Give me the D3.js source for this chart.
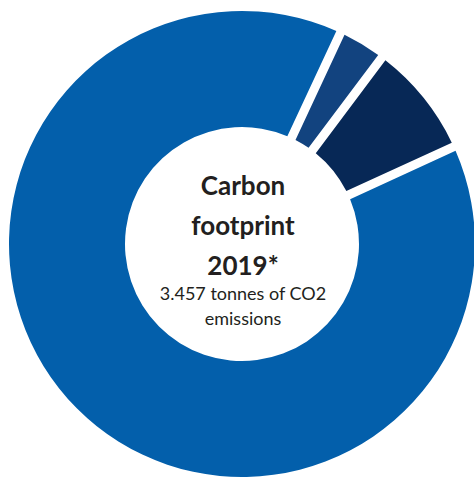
<!DOCTYPE html>
<html>
<head>
<meta charset="utf-8">
<script src="https://cdn.jsdelivr.net/npm/d3@7"></script>
<style>
  html, body { margin: 0; padding: 0; background: #ffffff; }
  svg { display: block; }
</style>
</head>
<body>
<svg id="chart" width="474" height="477"></svg>
<script>
// Emission shares of the 2019 carbon footprint (percent of total)
const categories = ["Scope 1", "Scope 2", "Scope 3"];
const shares = [3.3, 7.9, 88.8];
const colors = ["#12437f", "#072856", "#035fab"];

const titleLines = ["Carbon", "footprint", "2019*"];
const subtitleLines = ["3.457 tonnes of CO2", "emissions"];

const width = 474, height = 477;
const cx = 242, cy = 244;
const outerR = 233, innerR = 117;
const gap = 9; // white gap between slices, in px

const svg = d3.select("#chart");
const g = svg.append("g").attr("transform", `translate(${cx},${cy})`);

const data = categories.map((c, i) => ({ category: c, value: shares[i], color: colors[i] }));

const startDeg = 25;
const pie = d3.pie()
  .sort(null)
  .value(d => d.value)
  .startAngle(startDeg * Math.PI / 180)
  .endAngle((startDeg + 360) * Math.PI / 180);

const arc = d3.arc()
  .innerRadius(innerR)
  .outerRadius(outerR)
  .padRadius(outerR)
  .padAngle(gap / outerR);

g.selectAll("path.slice")
  .data(pie(data))
  .join("path")
  .attr("class", "slice")
  .attr("d", arc)
  .attr("fill", d => d.data.color);

// Centre label
const font = "Lato, 'Open Sans', sans-serif";
const textColor = "#231f20";

g.selectAll("text.title")
  .data(titleLines)
  .join("text")
  .attr("class", "title")
  .attr("x", 1)
  .attr("y", (d, i) => -49 + i * 40)
  .attr("text-anchor", "middle")
  .attr("font-family", font)
  .attr("font-weight", 700)
  .attr("font-size", 26)
  .attr("fill", textColor)
  .text(d => d);

g.selectAll("text.sub")
  .data(subtitleLines)
  .join("text")
  .attr("class", "sub")
  .attr("x", 1)
  .attr("y", (d, i) => 56 + i * 25)
  .attr("text-anchor", "middle")
  .attr("font-family", font)
  .attr("font-weight", 400)
  .attr("font-size", 18)
  .attr("fill", textColor)
  .text(d => d);
</script>
</body>
</html>
